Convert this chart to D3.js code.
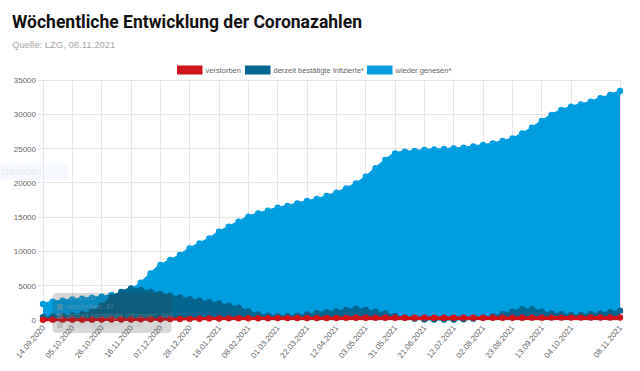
<!doctype html>
<html>
<head>
    <meta charset="utf-8">
    <title>Wöchentliche Entwicklung der Coronazahlen</title>
    <style>
        body {
            margin: 0;
            background: #ffffff;
        }

        .title {
            font-family: Roboto, "Liberation Sans", sans-serif;
            font-weight: 700;
            fill: #111111;
        }

        .source {
            font-family: "Liberation Sans", Arial, sans-serif;
            fill: #a8a8a8;
        }

        .tick text, .legend text {
            font-family: "Liberation Sans", Arial, sans-serif;
            fill: #666666;
        }

        .grid line {
            stroke: #e6e6e6;
            stroke-width: 1;
            shape-rendering: crispEdges;
        }
    </style>
</head>
<body>
    <div id="chart"></div>

    <script src="https://cdn.jsdelivr.net/npm/d3@7"></script>
    <script>
        var svg_width = 640;
        var svg_height = 371;

        var weeks = [
            '14.09.2020', '21.09.2020', '28.09.2020', '05.10.2020', '12.10.2020', '19.10.2020',
            '26.10.2020', '02.11.2020', '09.11.2020', '16.11.2020', '23.11.2020', '30.11.2020',
            '07.12.2020', '14.12.2020', '21.12.2020', '28.12.2020', '04.01.2021', '11.01.2021',
            '18.01.2021', '25.01.2021', '01.02.2021', '08.02.2021', '15.02.2021', '22.02.2021',
            '01.03.2021', '08.03.2021', '15.03.2021', '22.03.2021', '29.03.2021', '05.04.2021',
            '12.04.2021', '19.04.2021', '26.04.2021', '03.05.2021', '10.05.2021', '17.05.2021',
            '31.05.2021', '07.06.2021', '14.06.2021', '21.06.2021', '28.06.2021', '05.07.2021',
            '12.07.2021', '19.07.2021', '26.07.2021', '02.08.2021', '09.08.2021', '16.08.2021',
            '23.08.2021', '30.08.2021', '06.09.2021', '13.09.2021', '20.09.2021', '27.09.2021',
            '04.10.2021', '11.10.2021', '18.10.2021', '25.10.2021', '01.11.2021', '08.11.2021'
        ];

        // labels that survive the auto skip on the x axis
        var shown_weeks = [
            '14.09.2020', '05.10.2020', '26.10.2020', '16.11.2020', '07.12.2020', '28.12.2020',
            '18.01.2021', '08.02.2021', '01.03.2021', '22.03.2021', '12.04.2021', '03.05.2021',
            '31.05.2021', '21.06.2021', '12.07.2021', '02.08.2021', '23.08.2021', '13.09.2021',
            '04.10.2021', '08.11.2021'
        ];

        var y_ticks = [0, 5000, 10000, 15000, 20000, 25000, 30000, 35000];

        var verstorben = [
            47, 48, 49, 50, 52, 54, 57, 62, 70, 80,
            92, 105, 118, 132, 150, 170, 190, 210, 228, 242,
            252, 260, 266, 270, 274, 278, 282, 287, 292, 298,
            305, 312, 318, 322, 325, 327, 328, 329, 330, 330,
            330, 331, 331, 331, 332, 332, 333, 334, 336, 338,
            341, 344, 347, 349, 351, 353, 355, 357, 360, 364
        ];

        var infizierte = [
            440, 500, 560, 650, 850, 1250, 2100, 3300, 4100, 4600,
            4400, 4100, 3800, 3550, 3300, 3050, 2800, 2600, 2400, 2100,
            1800, 1250, 800, 620, 560, 560, 620, 800, 1000, 1150,
            1250, 1450, 1650, 1450, 1200, 950, 600, 350, 200, 90,
            70, 60, 70, 100, 200, 350, 550, 830, 1220, 1560,
            1560, 1220, 970, 830, 730, 730, 830, 970, 1120, 1360
        ];

        var genesen = [
            2330, 2670, 2820, 3010, 3110, 3260, 3400, 3650, 3890, 4470,
            5440, 6800, 8020, 8750, 9480, 10450, 11180, 11910, 12880, 13610,
            14340, 15070, 15550, 15940, 16380, 16620, 17010, 17350, 17640, 18080,
            18560, 19200, 19930, 20900, 22120, 23330, 24300, 24550, 24650, 24790,
            24890, 24940, 25030, 25130, 25320, 25520, 25760, 26100, 26490, 27220,
            28030, 29020, 29900, 30620, 31110, 31450, 31840, 32330, 32810, 33400
        ];

        var series = [
            { name: 'verstorben', values: verstorben, color: '#d0141c', width: 3 },
            { name: 'derzeit bestätigte Infizierte*', values: infizierte, color: '#03668e', width: 2 },
            { name: 'wieder genesen*', values: genesen, color: '#009ddf', width: 2 }
        ];

        var svg = d3.select('#chart').append('svg')
            .attr('width', svg_width)
            .attr('height', svg_height);

        var x = d3.scalePoint()
            .domain(weeks)
            .range([43, 620]);

        var y = d3.scaleLinear()
            .domain([0, 35000])
            .range([320, 80]);

        drawHeader();
        drawGrid();
        drawSeries();
        drawAxes();
        drawLegend();
        drawTooltip();

        function fitText(sel, target) {
            var w = sel.node().getComputedTextLength();
            sel.attr('textLength', target).attr('lengthAdjust', 'spacingAndGlyphs');
            if (Math.abs(w - target) < 1) sel.attr('textLength', null);
        }

        function drawHeader() {
            var t = svg.append('text')
                .attr('class', 'title')
                .attr('x', 12)
                .attr('y', 28)
                .style('font-size', '18px')
                .text('Wöchentliche Entwicklung der Coronazahlen');
            fitText(t, 350);

            svg.append('text')
                .attr('class', 'source')
                .attr('x', 12)
                .attr('y', 48)
                .style('font-size', '9.5px')
                .text('Quelle: LZG, 08.11.2021');

            // faint leftover of an editor button
            svg.append('rect')
                .attr('x', 0).attr('y', 163)
                .attr('width', 68).attr('height', 17)
                .attr('fill', '#f6f9fd');
            svg.append('text')
                .attr('x', 1).attr('y', 175)
                .style('font-family', 'Roboto, sans-serif')
                .style('font-size', '10px')
                .attr('fill', '#e6ebf2')
                .text('chneiden');
        }

        function drawGrid() {
            var grid = svg.append('g').attr('class', 'grid');

            grid.selectAll('line.h')
                .data(y_ticks)
              .enter().append('line')
                .attr('class', 'h')
                .attr('x1', 38)
                .attr('x2', 620)
                .attr('y1', function(d) { return y(d); })
                .attr('y2', function(d) { return y(d); });

            grid.selectAll('line.v')
                .data(shown_weeks)
              .enter().append('line')
                .attr('class', 'v')
                .attr('x1', function(d) { return x(d); })
                .attr('x2', function(d) { return x(d); })
                .attr('y1', 80)
                .attr('y2', 325);
        }

        function drawSeries() {
            // chart.js paints the first dataset on top, so go backwards
            var order = series.slice().reverse();

            order.forEach(function(s) {
                var pts = s.values.map(function(v, i) { return [weeks[i], v]; });

                var area = d3.area()
                    .x(function(d) { return x(d[0]); })
                    .y0(y(0))
                    .y1(function(d) { return y(d[1]); })
                    .curve(d3.curveMonotoneX);

                var line = d3.line()
                    .x(function(d) { return x(d[0]); })
                    .y(function(d) { return y(d[1]); })
                    .curve(d3.curveMonotoneX);

                var g = svg.append('g');

                g.append('path')
                    .datum(pts)
                    .attr('d', area)
                    .attr('fill', s.color);

                g.append('path')
                    .datum(pts)
                    .attr('d', line)
                    .attr('fill', 'none')
                    .attr('stroke', s.color)
                    .attr('stroke-width', s.width);

                g.selectAll('circle')
                    .data(pts)
                  .enter().append('circle')
                    .attr('cx', function(d) { return x(d[0]); })
                    .attr('cy', function(d) { return y(d[1]); })
                    .attr('r', 3.2)
                    .attr('fill', s.color);
            });
        }

        function drawAxes() {
            var yAxis = svg.append('g')
                .attr('transform', 'translate(43,0)')
                .call(d3.axisLeft(y).tickValues(y_ticks).tickFormat(d3.format('d'))
                    .tickSize(0).tickPadding(7));
            yAxis.select('.domain').remove();
            yAxis.selectAll('text').style('font-size', '8px');

            var xAxis = svg.append('g')
                .attr('transform', 'translate(0,320)')
                .call(d3.axisBottom(x).tickValues(shown_weeks).tickSize(0));
            xAxis.select('.domain').remove();
            xAxis.selectAll('text')
                .style('font-size', '8px')
                .style('text-anchor', 'end')
                .attr('dx', 0)
                .attr('dy', 0)
                .attr('y', 0)
                .attr('transform', 'translate(2,8) rotate(-50)');
        }

        function drawLegend() {
            var legend = svg.append('g').attr('class', 'legend');
            var pos = [177, 245, 367];

            series.forEach(function(s, i) {
                legend.append('rect')
                    .attr('x', pos[i])
                    .attr('y', 65.5)
                    .attr('width', 25.5)
                    .attr('height', 9)
                    .attr('fill', s.color);

                legend.append('text')
                    .attr('x', pos[i] + 28.5)
                    .attr('y', 73)
                    .style('font-size', '7.5px')
                    .text(s.name);
            });
        }

        function drawTooltip() {
            var tip = svg.append('g');

            tip.append('rect')
                .attr('x', 52.5).attr('y', 293)
                .attr('width', 119).attr('height', 40)
                .attr('rx', 4)
                .attr('fill', 'rgba(60,60,60,0.2)');

            var lines = [
                weeks[0],
                series[0].name + ': ' + verstorben[0],
                series[1].name + ': ' + infizierte[0],
                series[2].name + ': ' + genesen[0]
            ];

            tip.selectAll('text')
                .data(lines)
              .enter().append('text')
                .attr('x', function(d, i) { return i === 0 ? 58 : 66; })
                .attr('y', function(d, i) { return 300 + i * 9; })
                .style('font-family', '"Liberation Sans", Arial, sans-serif')
                .style('font-size', '7.5px')
                .attr('fill', 'rgba(170,170,170,0.4)')
                .text(function(d) { return d; });

            tip.selectAll('rect.key')
                .data(series)
              .enter().append('rect')
                .attr('class', 'key')
                .attr('x', 57)
                .attr('y', function(d, i) { return 304 + i * 9; })
                .attr('width', 6).attr('height', 6)
                .attr('fill', 'rgba(150,150,150,0.4)');
        }
    </script>
</body>
</html>
